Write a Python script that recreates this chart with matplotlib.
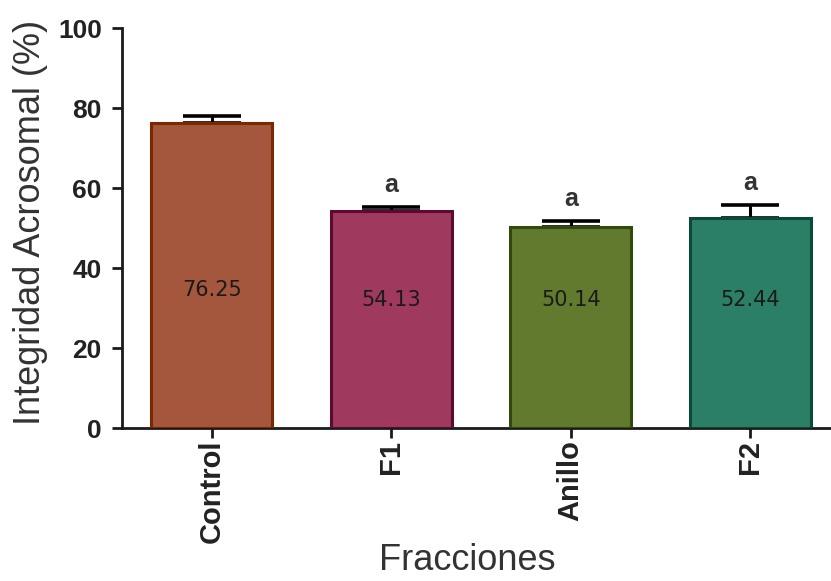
import matplotlib
matplotlib.use("Agg")
import matplotlib.pyplot as plt
import numpy as np

# data
fracciones = ['Control', 'F1', 'Anillo', 'F2']
medias = [76.25, 54.13, 50.14, 52.44]
errores = [1.75, 1.2, 1.6, 3.3]
letras = ['', 'a', 'a', 'a']

colores = ['#A5573D', '#9F3A5E', '#617A2E', '#2C7F67']
bordes = ['#7A2800', '#5B0A30', '#2F4A0C', '#0B4A38']


def main():
    plt.rcParams['font.family'] = ['Liberation Sans', 'DejaVu Sans']

    fig = plt.figure(figsize=(8.31, 5.81), dpi=100)
    ax = fig.add_axes([122 / 831, 1 - 428 / 581, 709 / 831, 400 / 581])

    x = np.arange(len(fracciones))
    ax.bar(x, medias, width=0.674, color=colores, edgecolor=bordes,
           linewidth=2.2, zorder=3)

    # only upper error bars
    ax.errorbar(x, medias, yerr=[np.zeros(len(errores)), errores], fmt='none',
                ecolor='black', elinewidth=2.2, capsize=21, capthick=2.6,
                zorder=2)

    # values written inside the bars
    label_y = [34.5, 32, 32, 32]
    for i in range(len(x)):
        ax.text(x[i], label_y[i], f"{medias[i]:.2f}", ha='center', va='center',
                fontsize=15, family='DejaVu Sans', color='#1a1a1a', zorder=4)
        if letras[i]:
            ax.text(x[i], medias[i] + errores[i] + 5.5, letras[i], ha='center',
                    va='center', fontsize=18, fontweight='bold', color='#333333')

    ax.set_xlim(-0.5, 3.45)
    ax.set_ylim(0, 100)
    ax.set_yticks([0, 20, 40, 60, 80, 100])
    ax.set_xticks(x)
    ax.set_xticklabels(fracciones, rotation=90, fontsize=21, fontweight='bold',
                       color='#222222')
    for lab in ax.get_yticklabels():
        lab.set_fontsize(19)
        lab.set_fontweight('bold')
        lab.set_color('#222222')

    ax.spines['top'].set_visible(False)
    ax.spines['right'].set_visible(False)
    ax.spines['left'].set_linewidth(2)
    ax.spines['bottom'].set_linewidth(2)
    ax.spines['left'].set_color('#1a1a1a')
    ax.spines['bottom'].set_color('#1a1a1a')
    ax.tick_params(axis='both', length=7.5, width=2, color='#1a1a1a')
    ax.tick_params(axis='y', pad=7)
    ax.tick_params(axis='x', pad=1)

    ax.set_ylabel('Integridad Acrosomal (%)', fontsize=26, color='#333333')
    ax.yaxis.set_label_coords(-0.105, 0.515)
    ax.set_xlabel('Fracciones', fontsize=26, color='#333333')
    ax.xaxis.set_label_coords(0.487, -0.2875)

    fig.savefig('out.png', dpi=100)


if __name__ == "__main__":
    main()
